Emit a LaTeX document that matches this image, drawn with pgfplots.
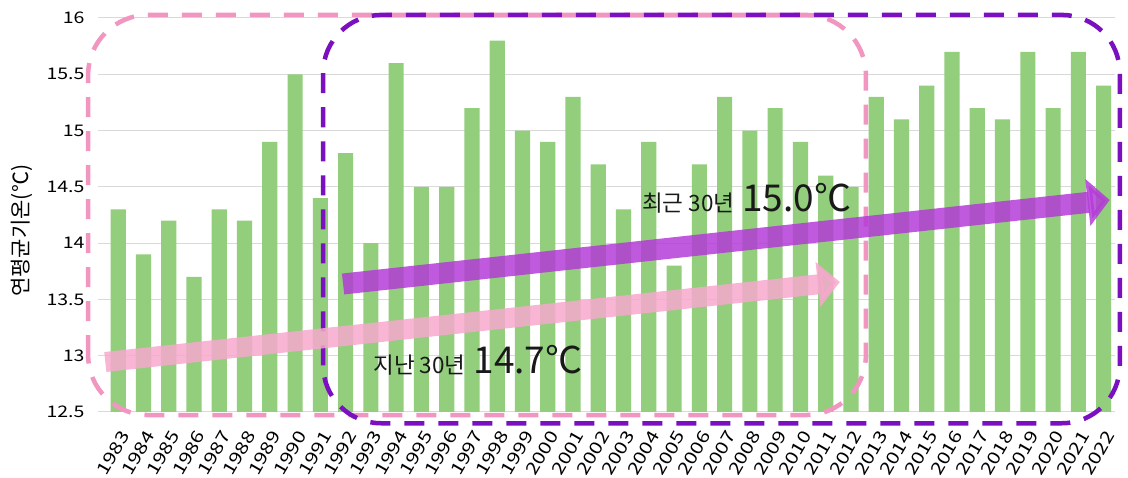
\documentclass[border=0pt]{standalone}
\usepackage{fontspec}
\setmainfont{Noto Sans CJK KR}
\usepackage{graphicx}
\usepackage{pgfplots}
\pgfplotsset{compat=1.18}
\usetikzlibrary{arrows.meta}
\definecolor{bargreen}{RGB}{146,206,124}
\definecolor{pinkd}{RGB}{241,150,192}
\definecolor{purpled}{RGB}{122,16,192}
\definecolor{pinka}{RGB}{247,168,205}
\definecolor{purpa}{RGB}{180,60,215}
\newcommand{\sx}[1]{\scalebox{1.22}[1]{#1}}
\newcommand{\xs}[1]{\scalebox{1.25}[1]{#1}}
\begin{document}
\begin{tikzpicture}
\path[use as bounding box] (-98pt,-66pt) rectangle (1030pt,412pt);
\begin{axis}[
  at={(0pt,0pt)}, anchor=south west,
  scale only axis, width=1017pt, height=394pt,
  xmin=1982.2, xmax=2022.45, ymin=12.5, ymax=16,
  ytick={12.5,13,13.5,14,14.5,15,15.5,16},
  xtick={1983,...,2022},
  xticklabels={\xs{1983},\xs{1984},\xs{1985},\xs{1986},\xs{1987},\xs{1988},\xs{1989},\xs{1990},\xs{1991},\xs{1992},\xs{1993},\xs{1994},\xs{1995},\xs{1996},\xs{1997},\xs{1998},\xs{1999},\xs{2000},\xs{2001},\xs{2002},\xs{2003},\xs{2004},\xs{2005},\xs{2006},\xs{2007},\xs{2008},\xs{2009},\xs{2010},\xs{2011},\xs{2012},\xs{2013},\xs{2014},\xs{2015},\xs{2016},\xs{2017},\xs{2018},\xs{2019},\xs{2020},\xs{2021},\xs{2022}},
  /pgf/number format/assume math mode=true,
  yticklabel={\sx{\pgfmathprintnumber{\tick}}},
  yticklabel style={font=\fontsize{16}{16}\selectfont, xshift=-10pt},
  xticklabel style={font=\fontsize{17}{17}\selectfont, rotate=60, anchor=east, yshift=-16pt, xshift=-11pt},
  ylabel={\fontsize{21}{21}\selectfont 연평균기온(℃)},
  ylabel style={at={(axis description cs:-0.075,0.46)}, anchor=center},
  axis line style={draw=none},
  major tick length=0pt,
  ymajorgrids, grid style={draw=black!15, line width=1pt},
  clip mode=individual,
  ybar, bar width=0.6,
]
\addplot[fill=bargreen, draw=none] coordinates {
(1983,14.3) (1984,13.9) (1985,14.2) (1986,13.7) (1987,14.3) (1988,14.2) (1989,14.9) (1990,15.5) (1991,14.4) (1992,14.8)
(1993,14.0) (1994,15.6) (1995,14.5) (1996,14.5) (1997,15.2) (1998,15.8) (1999,15.0) (2000,14.9) (2001,15.3) (2002,14.7)
(2003,14.3) (2004,14.9) (2005,13.8) (2006,14.7) (2007,15.3) (2008,15.0) (2009,15.2) (2010,14.9) (2011,14.6) (2012,14.5)
(2013,15.3) (2014,15.1) (2015,15.4) (2016,15.7) (2017,15.2) (2018,15.1) (2019,15.7) (2020,15.2) (2021,15.7) (2022,15.4)
};
\draw[pinkd, line width=4.5pt, dash pattern=on 20pt off 14pt, rounded corners=60pt]
  (axis cs:1981.81,12.473) rectangle (axis cs:2012.59,16.027);
\draw[purpled, line width=4.5pt, dash pattern=on 20pt off 14pt, rounded corners=58pt]
  (axis cs:1991.11,12.40) rectangle (axis cs:2022.64,16.027);
\draw[pinka, opacity=0.85, line width=20pt, -{Triangle[length=22pt,width=44pt]}]
  (axis cs:1982.49,12.944) -- (axis cs:2011.56,13.655);
\draw[purpa, opacity=0.85, line width=21pt, -{Triangle[length=22pt,width=46pt]}]
  (axis cs:1991.9,13.637) -- (axis cs:2022.24,14.383);
\node[anchor=base west, inner sep=0pt, text=black!90] at (axis cs:1993.09,12.846)
  {\fontsize{22.5}{22.5}\selectfont 지난 30년\hspace{8pt}\fontsize{37}{37}\selectfont 14.7℃};
\node[anchor=base west, inner sep=0pt, text=black!90] at (axis cs:2003.73,14.277)
  {\fontsize{22.5}{22.5}\selectfont 최근 30년\hspace{8pt}\fontsize{37}{37}\selectfont 15.0℃};
\end{axis}
\end{tikzpicture}
\end{document}
